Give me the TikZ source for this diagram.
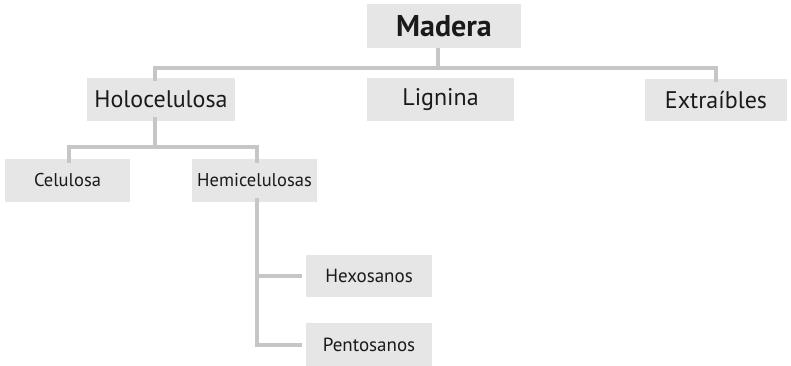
\documentclass[tikz,border=0pt]{standalone}
\usepackage{fontspec}
\setmainfont{PT Sans}
\definecolor{boxgray}{HTML}{E6E6E6}
\definecolor{linegray}{HTML}{C6C6C6}
\definecolor{txt}{HTML}{1A1A1A}
\begin{document}
\begin{tikzpicture}[x=1pt,y=-1pt,
  box/.style={fill=boxgray, draw=none, inner sep=0pt, text=txt},
  lvlA/.style={font=\fontsize{30}{33}\selectfont\bfseries},
  lvlB/.style={font=\fontsize{24}{27}\selectfont},
  lvlC/.style={font=\fontsize{18.5}{21}\selectfont},
  lvlD/.style={font=\fontsize{19}{22}\selectfont},
  conn/.style={draw=linegray, line width=4pt}]
\useasboundingbox (0,0) rectangle (791,366);
% nodes
\node[box, lvlA, minimum width=154pt, minimum height=44pt] (madera) at (444,26) {Madera};
\node[box, lvlB, minimum width=148pt, minimum height=43pt] (holo) at (161,99.5) {Holocelulosa};
\node[box, lvlB, minimum width=147pt, minimum height=43pt] (lig) at (440.5,99.5) {Lignina};
\node[box, lvlB, minimum width=142pt, minimum height=42pt] (ext) at (716,100) {Extraíbles};
\node[box, lvlC, minimum width=125pt, minimum height=43pt] (celu) at (67.5,180.5) {Celulosa};
\node[box, lvlC, minimum width=125pt, minimum height=43pt] (hemi) at (254.5,180.5) {Hemicelulosas};
\node[box, lvlD, minimum width=126pt, minimum height=42pt] (hexo) at (369,276) {Hexosanos};
\node[box, lvlD, minimum width=126pt, minimum height=43pt] (pento) at (369,344.5) {Pentosanos};
% level 1 bus
\coordinate (bus1) at (0,68);
\draw[conn] ([xshift=-6pt]madera.south) -- ([xshift=-6pt]madera.south |- bus1);
\draw[conn] ([xshift=-6pt,yshift=-3pt]holo.north) |- (bus1 -| ext.north) -- ([yshift=-3pt]ext.north);
% level 2 bus
\coordinate (bus2) at (0,147);
\draw[conn] ([xshift=-6pt,yshift=4pt]holo.south) -- ([xshift=-6pt]holo.south |- bus2);
\draw[conn] ([xshift=1.5pt,yshift=-4pt]celu.north) |- ([xshift=2.5pt]hemi.north |- bus2) -- ([xshift=2.5pt,yshift=-4pt]hemi.north);
% hemicelulosas branch
\draw[conn] ([xshift=2.5pt,yshift=4pt]hemi.south) |- ([xshift=-4pt]pento.west);
\draw[conn] ([xshift=2.5pt]hemi.south |- hexo.west) -- ([xshift=-4pt]hexo.west);
\end{tikzpicture}
\end{document}
